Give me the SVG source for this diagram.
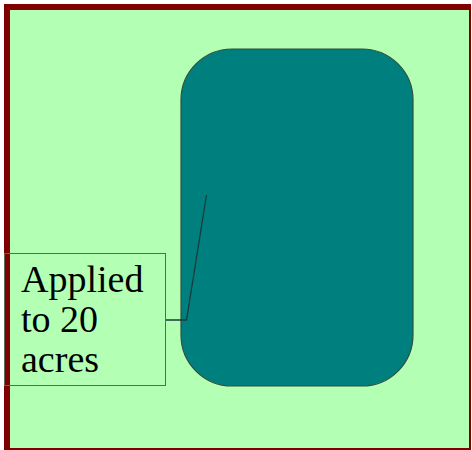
<svg xmlns="http://www.w3.org/2000/svg" width="472" height="450" viewBox="0 0 472 450">
<style>
.lbl{font-family:"Liberation Serif","Times New Roman",serif;font-size:38px;fill:#000}
</style>
<rect x="0" y="0" width="472" height="450" fill="#ffffff"/>
<rect x="4" y="4" width="467" height="446" fill="#800000"/>
<rect x="10" y="10" width="459" height="438" fill="#b3ffb3"/>
<g id="field">
<rect x="181" y="49" width="232" height="337" rx="51" ry="51" fill="#007f7f" stroke="#2f4f3f" stroke-width="1.2"/>
</g>
<g id="connectors">
<polyline points="166,320 186.5,320 206.5,195" fill="none" stroke="#1a3a3a" stroke-width="1.3"/>
</g>
<g id="label">
<rect x="4.5" y="253.5" width="161" height="132" fill="none" stroke="#5a6a5a" stroke-width="1"/>
<text class="lbl" x="21" y="292">Applied</text>
<text class="lbl" x="21" y="332">to 20</text>
<text class="lbl" x="21" y="372">acres</text>
</g>
</svg>
